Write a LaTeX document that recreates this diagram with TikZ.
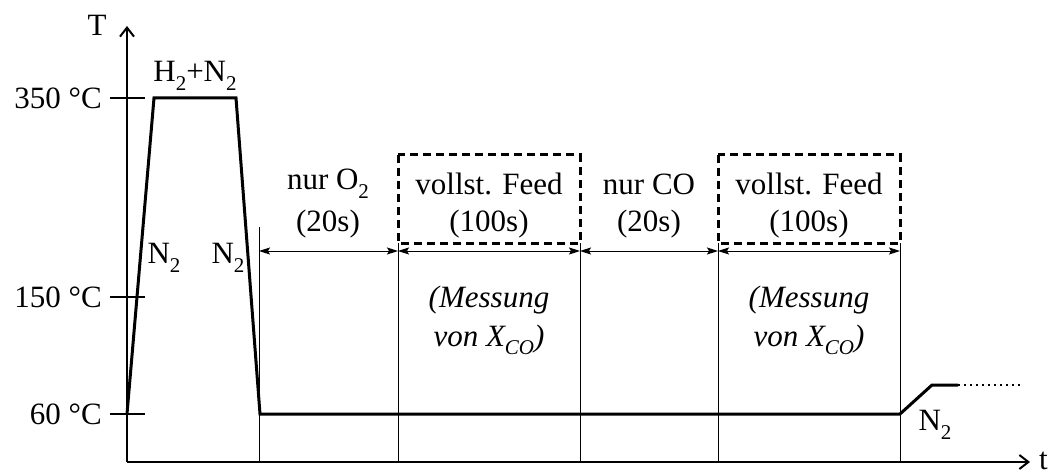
\documentclass[tikz,border=0pt]{standalone}
\usepackage{fontspec}
\setmainfont{Liberation Serif}
\usetikzlibrary{arrows.meta}
\newcommand\lowsub[1]{\raisebox{-0.28em}{\fontsize{21}{21}\selectfont #1}}
\begin{document}
\begin{tikzpicture}[x=1pt,y=-1pt,
  lbl/.style={inner sep=0pt,font=\fontsize{31}{37}\selectfont},
  profile/.style={line width=3pt,line join=miter},
  axis/.style={line width=2pt,-{Straight Barb[length=9pt,width=14pt,line width=2pt]}},
  thinl/.style={line width=1pt},
  dim/.style={line width=1pt,{Stealth[length=11pt,width=7pt,inset=2pt]}-{Stealth[length=11pt,width=7pt,inset=2pt]}},
  dbox/.style={line width=3pt,dash pattern=on 8pt off 5pt},
  tick/.style={line width=2pt}]
\useasboundingbox (0,0) rectangle (1054,473);
% axes
\coordinate (O) at (127,462);
\coordinate (Ytop) at (127,26);
\coordinate (Xend) at (1030,462);
\draw[axis] (O) -- (Ytop);
\draw[axis] (O) -- (Xend);
\node[lbl] (T) at (97,25) {T};
\node[lbl,anchor=base east] (t) at (1048,469) {t};
% ticks
\coordinate (t350a) at (110,98); \coordinate (t350b) at (145,98);
\coordinate (t150a) at (110,297); \coordinate (t150b) at (145,297);
\coordinate (t60a) at (110,414); \coordinate (t60b) at (145,414);
\draw[tick] (t350a) -- (t350b);
\draw[tick] (t150a) -- (t150b);
\draw[tick] (t60a) -- (t60b);
\node[lbl,anchor=east] (l350) at (102,98) {350 °C};
\node[lbl,anchor=east] (l150) at (102,297) {150 °C};
\node[lbl,anchor=east] (l60) at (102,414) {60 °C};
% profile
\coordinate (p0) at (127,414);
\coordinate (p1) at (154,98);
\coordinate (p2) at (236,98);
\coordinate (p3) at (260,414);
\coordinate (p4) at (900,414);
\coordinate (p5) at (932,385);
\coordinate (p6) at (958,385);
\coordinate (p7) at (1020,385);
\draw[profile] (p0) -- (p1) -- (p2) -- (p3) -- (p4) -- (p5) -- (p6);
\draw[line width=2pt,dash pattern=on 2pt off 4pt] (p6) -- (p7);
\node[lbl] (h2n2) at (195,76) {H\lowsub{2}+N\lowsub{2}};
\node[lbl] (n2a) at (164,258) {N\lowsub{2}};
\node[lbl] (n2b) at (228,258) {N\lowsub{2}};
\node[lbl] (n2c) at (935,425) {N\lowsub{2}};
% vertical lines
\coordinate (v0t) at (259,227); \coordinate (v0b) at (259,462);
\coordinate (v1t) at (398,243); \coordinate (v1b) at (398,462);
\coordinate (v2t) at (580,243); \coordinate (v2b) at (580,462);
\coordinate (v3t) at (718,243); \coordinate (v3b) at (718,462);
\coordinate (v4t) at (900,243); \coordinate (v4b) at (900,462);
\draw[thinl] (v0t) -- (v0b);
\draw[thinl] (v1t) -- (v1b);
\draw[thinl] (v2t) -- (v2b);
\draw[thinl] (v3t) -- (v3b);
\draw[thinl] (v4t) -- (v4b);
% dimension arrows
\coordinate (a0) at (259,251); \coordinate (a1) at (398,251);
\coordinate (a2) at (580,251); \coordinate (a3) at (718,251);
\coordinate (a4) at (900,251);
\draw[dim] (a0) -- (a1);
\draw[dim] (a1) -- (a2);
\draw[dim] (a2) -- (a3);
\draw[dim] (a3) -- (a4);
% dashed boxes
\coordinate (b1a) at (398,155); \coordinate (b1b) at (580,243);
\coordinate (b2a) at (718,155); \coordinate (b2b) at (900,243);
\draw[dbox] (b1a) rectangle (b1b);
\draw[dbox] (b2a) rectangle (b2b);
% texts
\node[lbl] (s1a) at (328,184) {nur O\lowsub{2}};
\node[lbl] (s1b) at (328,224) {(20s)};
\node[lbl] (s2a) at (489,184) {vollst. Feed};
\node[lbl] (s2b) at (489,224) {(100s)};
\node[lbl] (s3a) at (649,184) {nur CO};
\node[lbl] (s3b) at (649,224) {(20s)};
\node[lbl] (s4a) at (809,184) {vollst. Feed};
\node[lbl] (s4b) at (809,224) {(100s)};
\node[lbl] (m1a) at (489,300) {\itshape (Messung};
\node[lbl] (m1b) at (489,340) {\itshape von X\lowsub{CO})};
\node[lbl] (m2a) at (809,300) {\itshape (Messung};
\node[lbl] (m2b) at (809,340) {\itshape von X\lowsub{CO})};
\end{tikzpicture}
\end{document}
